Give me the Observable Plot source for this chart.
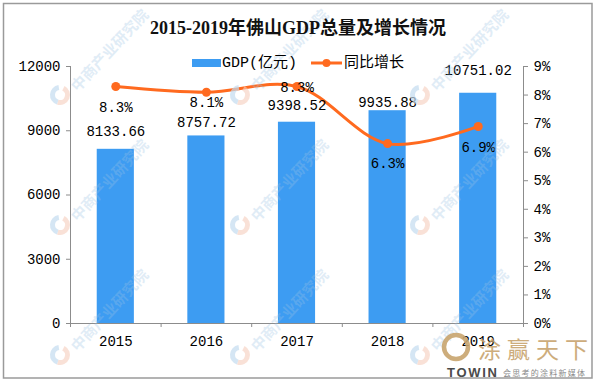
<!DOCTYPE html>
<html>
<head>
<meta charset="utf-8">
<script src="https://cdn.jsdelivr.net/npm/d3@7"></script>
<script src="https://cdn.jsdelivr.net/npm/@observablehq/plot@0.6"></script>
<style>
  html, body { margin: 0; padding: 0; background: #fff; }
  #chart { width: 596px; height: 381px; position: relative; }
</style>
</head>
<body>
<div id="chart"></div>
<script>
const title = "2015-2019年佛山GDP总量及增长情况";
const years = [2015, 2016, 2017, 2018, 2019];
const gdp = [8133.66, 8757.72, 9398.52, 9935.88, 10751.02];
const growth = [8.3, 8.1, 8.3, 6.3, 6.9];
const leftTicks = [0, 3000, 6000, 9000, 12000];
const rightTicks = [0, 1, 2, 3, 4, 5, 6, 7, 8, 9];
const seriesNames = ["GDP(亿元)", "同比增长"];
const watermarkText = "中商产业研究院";

// layout / style settings (not data)
const W = 596, H = 381;
const yMax = 12000, pMax = 9;
const blue = "#3d9cf2", orange = "#ff6a1f", axisColor = "#8c8c8c";
const gdpLabelDy = [-18, -13, -17, -8, -23];
const pctLabelDy = [21, 10, 1, 20, 21];
const mono = "'Liberation Mono', 'Noto Sans CJK SC', monospace";

const data = years.map((year, i) => ({
  year, gdp: gdp[i], growth: growth[i], gy: growth[i] / pMax * yMax
}));
const bounds = [years[0] - 0.5, ...years.map(y => y + 0.5)];

const labelMarks = [];
data.forEach((d, i) => {
  labelMarks.push(Plot.text([d], {
    x: "year", y: "gdp", text: d => d.gdp.toFixed(2), dy: gdpLabelDy[i],
    fill: "#000", fontSize: 14
  }));
  labelMarks.push(Plot.text([d], {
    x: "year", y: "gy", text: d => d.growth.toFixed(1) + "%", dy: pctLabelDy[i],
    fill: "#000", fontSize: 14
  }));
});

const chart = Plot.plot({
  width: W, height: H,
  marginLeft: 70, marginRight: 73, marginTop: 66, marginBottom: 58,
  style: { fontFamily: mono, fontSize: "14px", color: "#000", background: "#fff", overflow: "visible" },
  x: { type: "linear", domain: [bounds[0], bounds[bounds.length - 1]] },
  y: { domain: [0, yMax] },
  marks: [
    Plot.rectY(data, { x1: d => d.year - 0.205, x2: d => d.year + 0.205, y1: 0, y2: "gdp", fill: blue }),
    Plot.ruleX([bounds[0]], { stroke: axisColor, strokeWidth: 1 }),
    Plot.ruleX([bounds[bounds.length - 1]], { stroke: axisColor, strokeWidth: 1 }),
    Plot.ruleY([0], { stroke: axisColor, strokeWidth: 1 }),
    Plot.axisY({ ticks: leftTicks, tickFormat: d3.format("d"), tickSize: 4, tickPadding: 6,
      stroke: axisColor, fill: "#000", label: null, fontSize: 14 }),
    Plot.axisY({ anchor: "right", ticks: rightTicks.map(p => p / pMax * yMax),
      tickFormat: v => Math.round(v / yMax * pMax) + "%", tickSize: 4, tickPadding: 6,
      stroke: axisColor, fill: "#000", label: null, fontSize: 14 }),
    Plot.axisX({ ticks: bounds, tickFormat: () => "", tickSize: 4, stroke: axisColor, label: null }),
    Plot.axisX({ ticks: years, tickFormat: d => String(d), tickSize: 0, tickPadding: 13,
      fill: "#000", label: null, fontSize: 14 }),
    Plot.line(data, { x: "year", y: "gy", stroke: orange, strokeWidth: 3, curve: "catmull-rom" }),
    Plot.dot(data, { x: "year", y: "gy", r: 4.5, fill: orange, stroke: null }),
    ...labelMarks
  ]
});

document.getElementById("chart").appendChild(chart);

const svg = d3.select(chart);

// faint diagonal watermarks
const wm = svg.append("g").attr("pointer-events", "none");
[60, 240, 420].forEach(x0 => {
  [95, 225, 355].forEach(y0 => {
    const g = wm.append("g").attr("transform", `translate(${x0},${y0})`);
    g.append("path").attr("d", d3.arc()({ innerRadius: 5, outerRadius: 10, startAngle: Math.PI * 0.15, endAngle: Math.PI * 1.1 }))
      .attr("fill", "#f5cdbd").attr("opacity", 0.6);
    g.append("path").attr("d", d3.arc()({ innerRadius: 5, outerRadius: 10, startAngle: Math.PI * 1.1, endAngle: Math.PI * 1.95 }))
      .attr("fill", "#c3dcf0").attr("opacity", 0.7);
    g.append("text").attr("transform", "translate(13,-7) rotate(-47)")
      .attr("text-anchor", "start").attr("dominant-baseline", "central")
      .style("font-family", "'Noto Sans CJK SC', sans-serif").style("font-size", "15px").style("font-weight", "bold")
      .attr("fill", "#9cc3e4").attr("opacity", 0.3).text(watermarkText);
  });
});

// outer border
svg.append("rect").attr("x", 3.5).attr("y", 3.5).attr("width", 588.5).attr("height", 374.5)
  .attr("fill", "none").attr("stroke", "#9a9a9a").attr("stroke-width", 1.5);
// title
svg.append("text").attr("x", 298).attr("y", 28).attr("text-anchor", "middle")
  .attr("dominant-baseline", "central")
  .style("font-family", "'Liberation Serif', 'Noto Sans CJK SC', serif")
  .style("font-weight", "bold").style("font-size", "18px").attr("fill", "#111").text(title);
// legend
const lg = svg.append("g").style("font-family", mono).style("font-size", "15px").attr("text-anchor", "start");
lg.append("rect").attr("x", 192).attr("y", 59).attr("width", 29).attr("height", 8).attr("fill", blue);
lg.append("text").attr("x", 222).attr("y", 63).attr("dominant-baseline", "central").attr("fill", "#000").text(seriesNames[0]);
lg.append("line").attr("x1", 311).attr("x2", 342).attr("y1", 63).attr("y2", 63)
  .attr("stroke", orange).attr("stroke-width", 3);
lg.append("circle").attr("cx", 326.5).attr("cy", 63).attr("r", 4).attr("fill", orange);
lg.append("text").attr("x", 344).attr("y", 63).attr("dominant-baseline", "central").attr("fill", "#000").text(seriesNames[1]);

// brand mark (bottom right)
const brand = svg.append("g").attr("text-anchor", "start");
brand.append("circle").attr("cx", 456).attr("cy", 347).attr("r", 12)
  .attr("fill", "none").attr("stroke", "#c8a46e").attr("stroke-width", 4.5).attr("opacity", 0.9);
brand.append("text").attr("x", 478).attr("y", 348).attr("dominant-baseline", "central")
  .style("font-family", "'Noto Sans CJK SC', sans-serif").style("font-size", "23px")
  .attr("fill", "#c8a46e").attr("opacity", 0.9).attr("textLength", 110).text("涂赢天下");
brand.append("text").attr("x", 447).attr("y", 372).attr("dominant-baseline", "central")
  .style("font-family", "'Liberation Sans', sans-serif").style("font-weight", "bold").style("font-size", "13px")
  .attr("fill", "#4a4a4a").attr("textLength", 50).text("TOWIN");
brand.append("text").attr("x", 503).attr("y", 372).attr("dominant-baseline", "central")
  .style("font-family", "'Noto Sans CJK SC', sans-serif").style("font-size", "8px")
  .attr("fill", "#8a8a8a").attr("textLength", 82).text("会思考的涂料新媒体");
</script>
</body>
</html>
